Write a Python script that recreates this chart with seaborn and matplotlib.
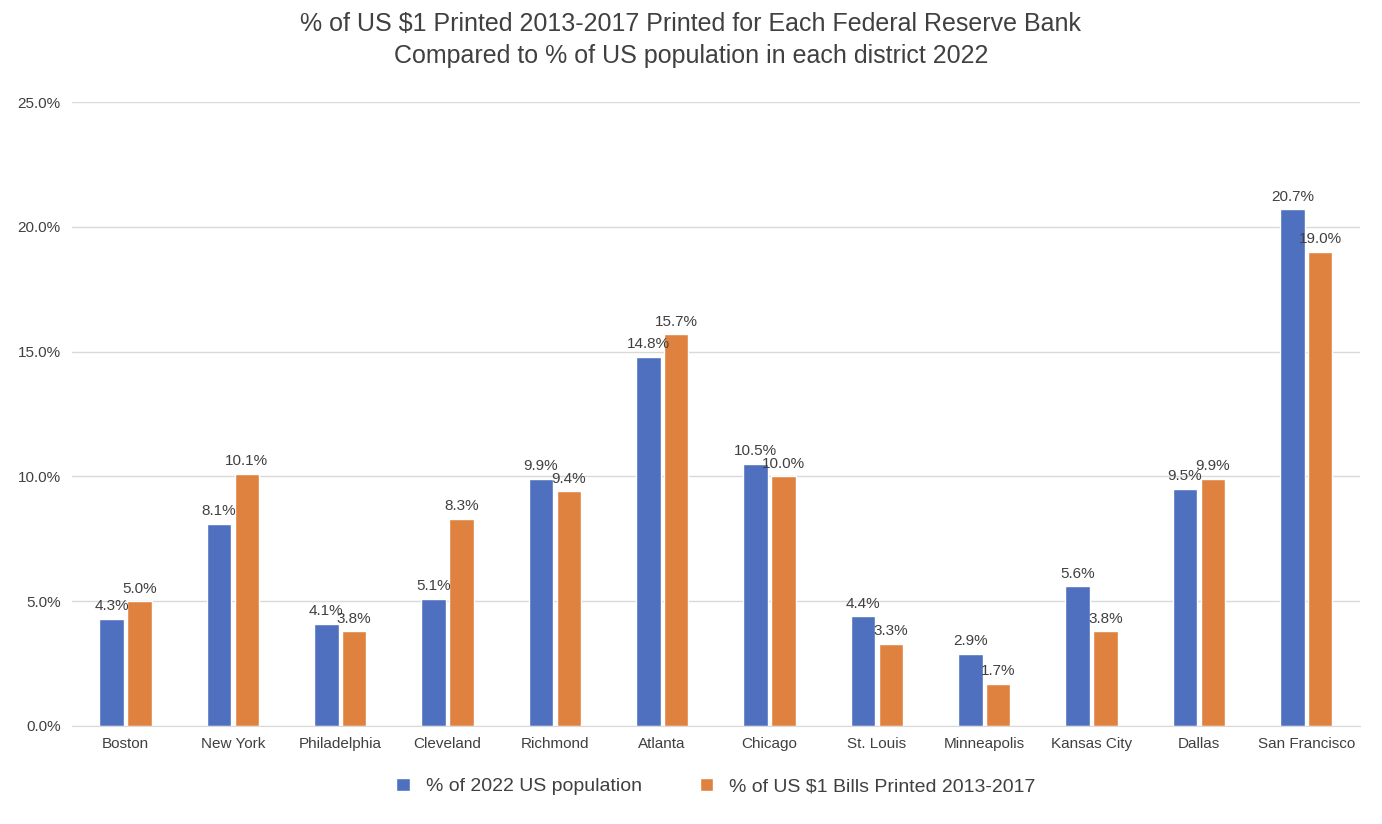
import matplotlib
matplotlib.use("Agg")
import matplotlib.pyplot as plt
import seaborn as sns
import pandas as pd
from matplotlib.ticker import PercentFormatter

banks = ["Boston","New York","Philadelphia","Cleveland","Richmond","Atlanta","Chicago",
         "St. Louis","Minneapolis","Kansas City","Dallas","San Francisco"]
population = [4.3,8.1,4.1,5.1,9.9,14.8,10.5,4.4,2.9,5.6,9.5,20.7]
printed = [5.0,10.1,3.8,8.3,9.4,15.7,10.0,3.3,1.7,3.8,9.9,19.0]
s1 = "% of 2022 US population"
s2 = "% of US $1 Bills Printed 2013-2017"

df = pd.DataFrame({"bank": banks*2, "value": population+printed,
                   "series": [s1]*len(banks) + [s2]*len(banks)})

sns.set_style("white")
plt.rcParams['font.family'] = ['Liberation Sans', 'DejaVu Sans']
fig = plt.figure(figsize=(13.82, 8.24), dpi=100)
ax = fig.add_axes([0.052, 0.119, 0.932, 0.757])
sns.barplot(data=df, x="bank", y="value", hue="series", ax=ax,
            palette=["#4E70BE", "#E0823F"], width=0.52, gap=0.12, saturation=1)
for c in ax.containers:
    ax.bar_label(c, fmt="%.1f%%", padding=4, fontsize=11, color="#404040")
ax.set_ylim(0, 25)
ax.set_yticks([0,5,10,15,20,25])
ax.yaxis.set_major_formatter(PercentFormatter(decimals=1))
ax.grid(axis="y", color="#D9D9D9", lw=1)
ax.set_axisbelow(True)
for s in ["top","right","left"]:
    ax.spines[s].set_visible(False)
ax.spines["bottom"].set_color("#D9D9D9")
ax.tick_params(axis="both", length=0, labelsize=11, colors="#404040", pad=8)
ax.set_xlabel(""); ax.set_ylabel("")
ax.set_xlim(-0.5, 11.5)
ax.legend(loc="upper center", bbox_to_anchor=(0.5, -0.055), ncol=2, frameon=False,
          fontsize=14, handlelength=0.7, handleheight=0.7, columnspacing=3,
          labelcolor="#404040")
fig.suptitle("% of US $1 Printed 2013-2017 Printed for Each Federal Reserve Bank\nCompared to % of US population in each district 2022",
             y=0.985, fontsize=18, color="#404040", linespacing=1.4)
fig.savefig("out.png", dpi=100)
